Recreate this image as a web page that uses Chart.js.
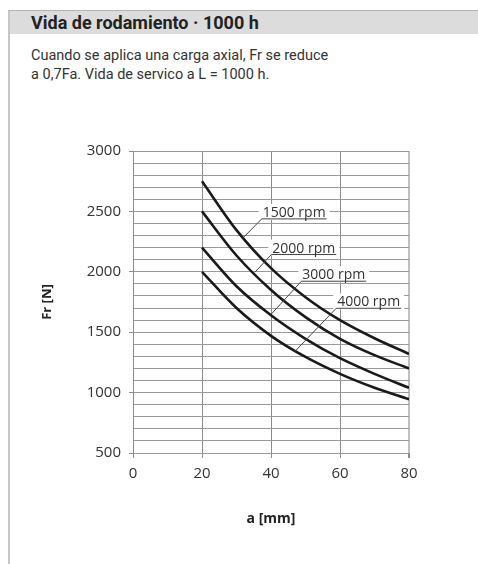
<!DOCTYPE html>
<html>
<head>
<meta charset="utf-8">
<script src="https://cdn.jsdelivr.net/npm/chart.js@4/dist/chart.umd.min.js"></script>
<style>
  body { margin: 0; width: 478px; height: 564px; position: relative; overflow: hidden; background: #fff; }
  .panel { position: absolute; left: 8px; top: 10px; right: 0; bottom: 0; border-left: 2px solid #c6c6c6; border-top: 1px solid #b4b4b4; }
  .head { position: absolute; left: 0; top: 0; right: 0; height: 23px; background: #dcdcdc; }
  .head span { position: absolute; left: 21px; top: 1px; font: bold 18px Roboto, sans-serif; color: #222; white-space: nowrap; }
  .desc { position: absolute; left: 21px; top: 35px; font: 14.5px Roboto, sans-serif; line-height: 19px; color: #333; }
  #chart { position: absolute; left: 0; top: 0; }
</style>
</head>
<body>
<div class="panel">
  <div class="head"><span>Vida de rodamiento · 1000 h</span></div>
  <div class="desc">Cuando se aplica una carga axial, Fr se reduce<br>a 0,7Fa. Vida de servico a L = 1000 h.</div>
</div>
<canvas id="chart" width="478" height="564"></canvas>
<script>
// Bearing life curves, radial load Fr [N] vs distance a [mm]
const aValues = [20, 30, 40, 50, 60, 70, 80];
const rpm1500 = [2750, 2345, 2030, 1790, 1600, 1450, 1320];
const rpm2000 = [2500, 2135, 1850, 1625, 1445, 1310, 1200];
const rpm3000 = [2200, 1880, 1640, 1445, 1285, 1155, 1040];
const rpm4000 = [2000, 1700, 1470, 1295, 1155, 1040, 945];
const seriesNames = ["1500 rpm", "2000 rpm", "3000 rpm", "4000 rpm"];

// label leaders: start on the curve, end at the underline (data units)
const leaderFromA = [31.9, 35.3, 40.1, 46.9];
const leaderFromF = [2281, 1995, 1650, 1340];
const leaderToA = [37.3, 40.1, 48.8, 58.9];
const leaderToF = [2438, 2143, 1922, 1698];

const xTicks = [0, 20, 40, 60, 80];
const yMajorStep = 500;

Chart.defaults.font.family = "'Open Sans', sans-serif";
Chart.defaults.color = "#333";

const toPoints = (vals) => aValues.map((a, i) => ({ x: a, y: vals[i] }));

const rpmLabels = {
  id: "rpmLabels",
  afterDatasetsDraw(chart) {
    const { ctx, scales } = chart;
    ctx.save();
    ctx.font = "14px 'Open Sans', sans-serif";
    ctx.textBaseline = "alphabetic";
    seriesNames.forEach((name, i) => {
      const x0 = scales.x.getPixelForValue(leaderFromA[i]);
      const y0 = scales.y.getPixelForValue(leaderFromF[i]);
      const x1 = scales.x.getPixelForValue(leaderToA[i]);
      const y1 = scales.y.getPixelForValue(leaderToF[i]);
      const w = ctx.measureText(name).width;

      // white box under the label
      ctx.fillStyle = "#fff";
      ctx.fillRect(x1 - 3, y1 - 15, w + 8, 16);

      ctx.strokeStyle = "#444";
      ctx.lineWidth = 1;
      ctx.beginPath();
      ctx.moveTo(x0, y0);
      ctx.lineTo(x1, y1);
      ctx.lineTo(x1 + w + 2, y1);
      ctx.stroke();

      ctx.fillStyle = "#333";
      ctx.fillText(name, x1 + 1, y1 - 2);
    });
    ctx.restore();
  },
};

const ctx = document.getElementById("chart").getContext("2d");
new Chart(ctx, {
  type: "line",
  data: {
    datasets: [rpm1500, rpm2000, rpm3000, rpm4000].map((vals, i) => ({
      label: seriesNames[i],
      data: toPoints(vals),
      borderColor: "#1a1a1a",
      borderWidth: 2.6,
      pointRadius: 0,
      cubicInterpolationMode: "monotone",
      fill: false,
    })),
  },
  options: {
    responsive: false,
    animation: false,
    layout: { padding: { left: 35, right: 69, top: 151, bottom: 37 } },
    plugins: {
      legend: { display: false },
      tooltip: { enabled: false },
    },
    scales: {
      x: {
        type: "linear",
        min: 0,
        max: 80,
        afterFit: (scale) => { scale.height = 74; },
        afterBuildTicks: (scale) => { scale.ticks = xTicks.map((v) => ({ value: v })); },
        grid: {
          color: (c) => (c.tick && c.tick.value === 80 ? "#c0c0c0" : "#8c8c8c"),
          lineWidth: (c) => (c.tick && c.tick.value === 80 ? 2 : 1),
          tickColor: "#8c8c8c",
          tickLength: 5,
        },
        border: { display: false },
        ticks: { font: { size: 15 }, color: "#333", padding: 7 },
        title: {
          display: true,
          text: "a [mm]",
          font: { size: 14, weight: "bold" },
          color: "#222",
          padding: { top: 0, bottom: 0 },
        },
      },
      y: {
        type: "linear",
        min: 500,
        max: 3000,
        afterFit: (scale) => { scale.width = 98; },
        ticks: {
          stepSize: 100,
          autoSkip: false,
          font: { size: 15 },
          color: "#333",
          padding: 8,
          callback: (v) => (v % yMajorStep === 0 ? v : ""),
        },
        grid: {
          color: "#9a9a9a",
          lineWidth: 1,
          tickLength: 4,
          tickColor: (c) => (c.tick && c.tick.value % yMajorStep === 0 ? "#8c8c8c" : "rgba(0,0,0,0)"),
        },
        border: { display: true, color: "#8c8c8c" },
        title: {
          display: true,
          text: "Fr [N]",
          font: { size: 13, weight: "bold" },
          color: "#222",
          padding: { top: 4, bottom: 0 },
        },
      },
    },
  },
  plugins: [rpmLabels],
});
</script>
</body>
</html>
